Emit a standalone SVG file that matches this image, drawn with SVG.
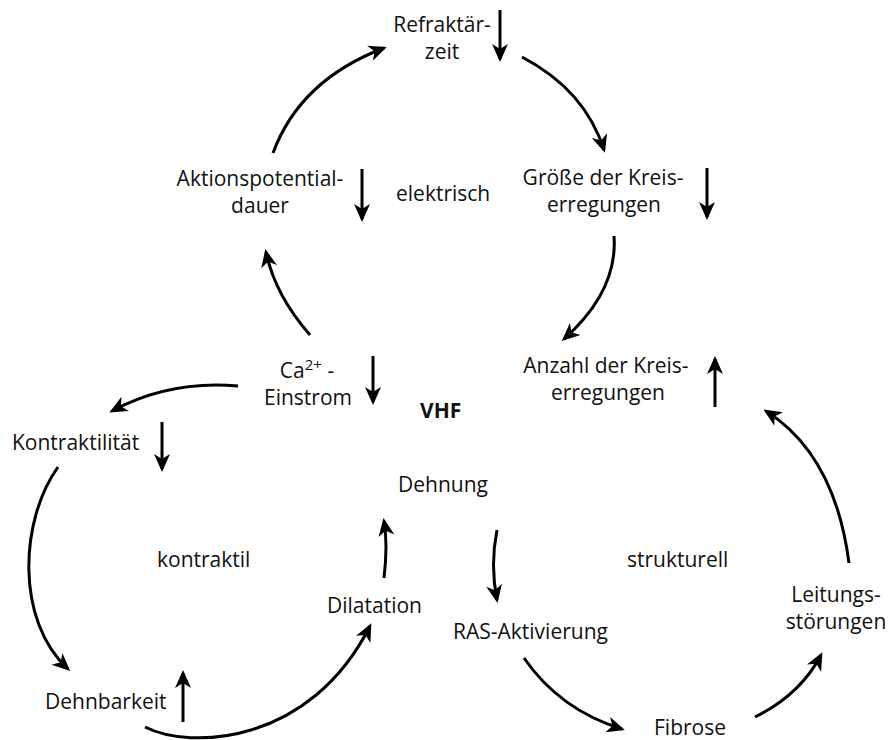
<svg xmlns="http://www.w3.org/2000/svg" width="892" height="740" viewBox="0 0 892 740">
<defs>
<style>
text{font-family:"Open Sans","Noto Sans","Liberation Sans",sans-serif;font-size:21px;fill:#111}
.m{text-anchor:middle}
.b{font-weight:700}
.c{fill:none;stroke:#000;stroke-width:3;marker-end:url(#ah)}
</style>
<marker id="ah" viewBox="-20 -9 22 18" refX="-3" refY="0" markerWidth="22" markerHeight="18" markerUnits="userSpaceOnUse" orient="auto">
<path d="M0,0 L-18,-8 L-13,0 L-18,8 Z" fill="#000"/>
</marker>
</defs>
<rect width="892" height="740" fill="#fff"/>
<g id="connectors">
<path class="c" d="M273,153 Q300,80 384,48"/>
<path class="c" d="M522,57 Q585,90 604,150"/>
<path class="c" d="M614,236 Q618,291 564,339"/>
<path class="c" d="M849,563 Q835,455 766,411"/>
<path class="c" d="M755,717 Q800,695 821,655"/>
<path class="c" d="M524,658 Q560,710 622,729"/>
<path class="c" d="M497,530 Q490,565 497,600"/>
<path class="c" d="M384,578 Q388,545 384,521"/>
<path class="c" d="M145,727 C190,750 310,745 370,626"/>
<path class="c" d="M58,467 C20,520 15,620 68,669"/>
<path class="c" d="M238,386 Q170,380 112,411"/>
<path class="c" d="M310,335 Q275,295 266,252"/>
</g>
<g id="updown">
<path class="c" d="M500,10 V59"/>
<path class="c" d="M362,169 V219"/>
<path class="c" d="M707,168 V217"/>
<path class="c" d="M373,356 V402"/>
<path class="c" d="M715,407 V359"/>
<path class="c" d="M162,422 V469"/>
<path class="c" d="M183,722 V673"/>
</g>
<g id="refraktaer"><text class="m" x="442" y="32">Refraktär-</text><text class="m" x="442" y="59">zeit</text></g>
<g id="apd"><text class="m" x="260" y="186">Aktionspotential-</text><text class="m" x="260" y="213">dauer</text></g>
<g id="elektrisch"><text x="396" y="201">elektrisch</text></g>
<g id="groesse"><text class="m" x="603" y="185">Größe der Kreis-</text><text class="m" x="604" y="212">erregungen</text></g>
<g id="anzahl"><text class="m" x="606" y="373">Anzahl der Kreis-</text><text class="m" x="608" y="400">erregungen</text></g>
<g id="ca"><text class="m" x="307" y="378">Ca<tspan font-size="15" dy="-8">2+</tspan><tspan dy="8"> -</tspan></text><text class="m" x="308" y="405">Einstrom</text></g>
<g id="vhf"><text class="b" x="420" y="418">VHF</text></g>
<g id="kontraktilitaet"><text x="12" y="450">Kontraktilität</text></g>
<g id="dehnung"><text x="398" y="492">Dehnung</text></g>
<g id="kontraktil"><text x="157" y="567">kontraktil</text></g>
<g id="strukturell"><text x="627" y="567">strukturell</text></g>
<g id="dilatation"><text x="327" y="613">Dilatation</text></g>
<g id="ras"><text x="453" y="639">RAS-Aktivierung</text></g>
<g id="leitung"><text class="m" x="836" y="602">Leitungs-</text><text class="m" x="836" y="629">störungen</text></g>
<g id="fibrose"><text x="654" y="735">Fibrose</text></g>
<g id="dehnbarkeit"><text x="45" y="709">Dehnbarkeit</text></g>
</svg>
